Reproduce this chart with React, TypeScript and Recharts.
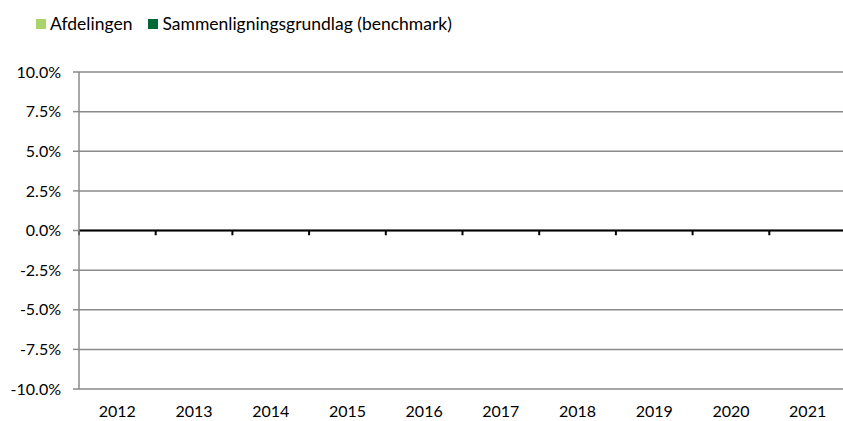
import React from "react"
import {
  BarChart,
  Bar,
  XAxis,
  YAxis,
  CartesianGrid,
  ReferenceLine,
  Legend,
} from "recharts"

const years = ["2012", "2013", "2014", "2015", "2016", "2017", "2018", "2019", "2020", "2021"]
const afdelingen = [0, 0, 0, 0, 0, 0, 0, 0, 0, 0]
const benchmark = [0, 0, 0, 0, 0, 0, 0, 0, 0, 0]
const yTicks = [-0.1, -0.075, -0.05, -0.025, 0, 0.025, 0.05, 0.075, 0.1]

const series = [
  { key: "afdelingen", name: "Afdelingen", color: "#A9D46A" },
  { key: "benchmark", name: "Sammenligningsgrundlag (benchmark)", color: "#006837" },
]

const data = years.map((year, i) => ({
  year,
  afdelingen: afdelingen[i],
  benchmark: benchmark[i],
}))

const FONT = "Lato, 'Noto Sans', sans-serif"

function LegendContent() {
  return (
    <div style={{ display: "flex", alignItems: "center", fontFamily: FONT, fontSize: 17.5, color: "#000", lineHeight: "20px" }}>
      {series.map((s) => (
        <div key={s.key} style={{ display: "flex", alignItems: "center", marginRight: 16 }}>
          <span style={{ width: 10, height: 10, background: s.color, marginRight: 4, display: "inline-block" }} />
          <span>{s.name}</span>
        </div>
      ))}
    </div>
  )
}

export default function App() {
  return (
    <div style={{ position: "absolute", left: 0, top: 0, width: 843, height: 421, overflow: "hidden", background: "#fff" }}>
      <BarChart width={850} height={421} data={data} margin={{ top: 72, right: 4, left: 0, bottom: 2 }} barGap={0}>
        <CartesianGrid horizontal vertical={false} stroke="#8A8A8A" strokeWidth={1.5} />
        <XAxis
          dataKey="year"
          axisLine={false}
          tickLine={false}
          height={30}
          tickMargin={11}
          tick={{ fill: "#000", fontSize: 16, fontFamily: FONT }}
        />
        <YAxis
          domain={[-0.1, 0.1]}
          ticks={yTicks}
          width={79}
          tickSize={6}
          tickMargin={12}
          axisLine={{ stroke: "#8A8A8A", strokeWidth: 1.5 }}
          tickLine={{ stroke: "#8A8A8A", strokeWidth: 1.5 }}
          tickFormatter={(v: number) => (v * 100).toFixed(1) + "%"}
          tick={{ fill: "#000", fontSize: 16, fontFamily: FONT }}
        />
        <Legend
          layout="horizontal"
          verticalAlign="middle"
          align="center"
          content={<LegendContent />}
          wrapperStyle={{ top: 14, left: 36, width: "auto", height: "auto" }}
        />
        {series.map((s) => (
          <Bar key={s.key} dataKey={s.key} name={s.name} fill={s.color} isAnimationActive={false} />
        ))}
        <ReferenceLine y={0} stroke="#000" strokeWidth={2} />
        {years.map((y) => (
          <ReferenceLine
            key={y}
            position="start"
            segment={[{ x: y, y: 0 }, { x: y, y: -0.003 }]}
            stroke="#000"
            strokeWidth={2}
          />
        ))}
      </BarChart>
    </div>
  )
}
